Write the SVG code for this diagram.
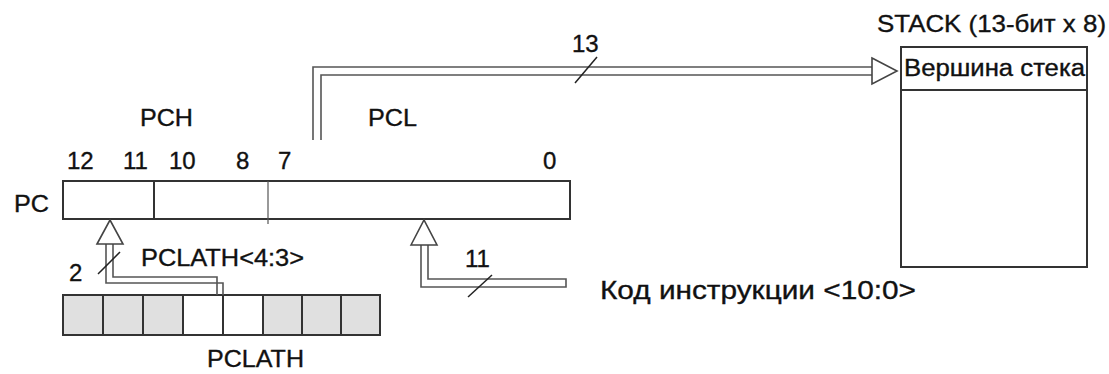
<svg xmlns="http://www.w3.org/2000/svg" width="1109" height="374" viewBox="0 0 1109 374">
<style>
text{font-family:"Liberation Sans",Arial,sans-serif;fill:#111;stroke:#111;stroke-width:0.35;}
.t{font-size:24px;}
.box{fill:#fff;stroke:#333;stroke-width:2;}
.gbox{fill:#e0e0e0;stroke:#333;stroke-width:2;}
.wire{fill:none;stroke:#555;stroke-width:1.6;}
.head{fill:#fff;stroke:#444;stroke-width:1.6;}
.slash{stroke:#222;stroke-width:1.5;}
</style>
<rect width="1109" height="374" fill="#fff"/>
<g id="pc">
<rect class="box" x="63" y="181" width="507" height="38"/>
<line x1="154" y1="181" x2="154" y2="219" stroke="#333" stroke-width="2"/>
<line x1="268" y1="181" x2="268" y2="224" stroke="#555" stroke-width="1.2"/>
<text class="t" x="14" y="212" textLength="35" lengthAdjust="spacingAndGlyphs">PC</text>
<text class="t" x="140" y="126" textLength="53" lengthAdjust="spacingAndGlyphs">PCH</text>
<text class="t" x="368" y="126" textLength="49" lengthAdjust="spacingAndGlyphs">PCL</text>
<text class="t" x="67" y="169">12</text>
<text class="t" x="123" y="169">11</text>
<text class="t" x="169" y="169">10</text>
<text class="t" x="236" y="169">8</text>
<text class="t" x="278" y="169">7</text>
<text class="t" x="543" y="169">0</text>
</g>
<g id="stack">
<rect class="box" x="901" y="47" width="186" height="220"/>
<line x1="901" y1="90" x2="1087" y2="90" stroke="#333" stroke-width="2"/>
<text class="t" x="877" y="32" textLength="229" lengthAdjust="spacingAndGlyphs">STACK (13-бит x 8)</text>
<text x="904" y="76" font-size="23" textLength="181" lengthAdjust="spacingAndGlyphs">Вершина стека</text>
</g>
<g id="pclath">
<rect class="gbox" x="63" y="295" width="40" height="40"/>
<rect class="gbox" x="103" y="295" width="40" height="40"/>
<rect class="gbox" x="143" y="295" width="40" height="40"/>
<rect class="box" x="183" y="295" width="40" height="40"/>
<rect class="box" x="223" y="295" width="40" height="40"/>
<rect class="gbox" x="263" y="295" width="39" height="40"/>
<rect class="gbox" x="302" y="295" width="39" height="40"/>
<rect class="gbox" x="341" y="295" width="39" height="40"/>
<text class="t" x="207" y="367" textLength="97" lengthAdjust="spacingAndGlyphs">PCLATH</text>
</g>
<g id="instr">
<text x="600" y="299" font-size="26" textLength="316" lengthAdjust="spacingAndGlyphs">Код инструкции &lt;10:0&gt;</text>
</g>
<g id="connectors">
<polyline class="wire" points="313,140 313,67 872,67"/>
<polyline class="wire" points="321,140 321,75 872,75"/>
<polygon class="head" points="872,58 897,71 872,84"/>
<line class="slash" x1="575" y1="83" x2="597" y2="57"/>
<text class="t" x="572" y="52">13</text>

<polyline class="wire" points="106,244 106,283 223,283 223,295"/>
<polyline class="wire" points="113,244 113,277 217,277 217,295"/>
<polygon class="head" points="97,244 110,220 123,244"/>
<line class="slash" x1="98" y1="274" x2="120" y2="252"/>
<text class="t" x="69" y="281">2</text>
<text class="t" x="141" y="266" textLength="163" lengthAdjust="spacingAndGlyphs">PCLATH&lt;4:3&gt;</text>

<polyline class="wire" points="428,245 428,279 566,279 566,287 421,287 421,245"/>
<polygon class="head" points="411,245 424,220 437,245"/>
<line class="slash" x1="468" y1="297" x2="492" y2="275"/>
<text class="t" x="465" y="267">11</text>
</g>
</svg>
